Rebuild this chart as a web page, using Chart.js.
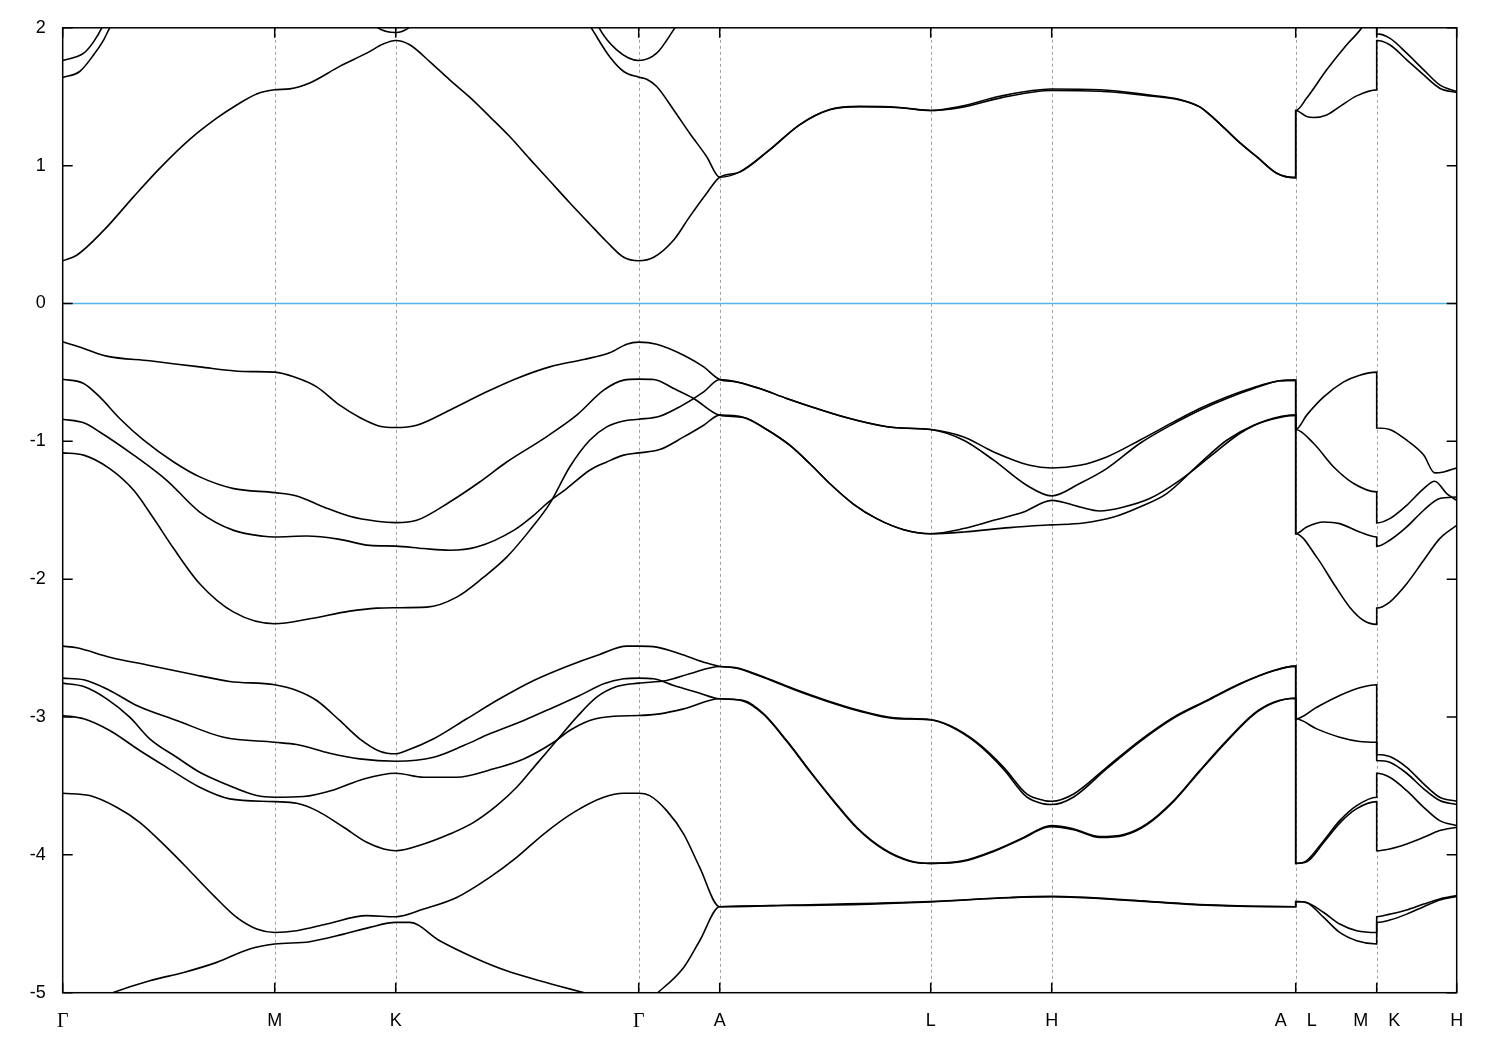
<!DOCTYPE html>
<html><head><meta charset="utf-8">
<script src="https://cdn.jsdelivr.net/npm/chart.js@4.4.1/dist/chart.umd.min.js"></script>
<style>html,body{margin:0;padding:0;background:#fff}#wrap{width:1500px;height:1050px}</style>
</head><body><div id="wrap"><canvas id="c" width="1500" height="1050"></canvas></div>
<script>
// k-path positions of the high-symmetry points and their labels
const kPoints=[0,212,333,576,657,868,989,1233,1314,1394];
const kLabels=['Γ','M','K','Γ','A','L','H','A    L','M    K','H'];
const yTicks=[-5,-4,-3,-2,-1,0,1,2];
const fermi=[[0,0],[1394,0]];

// conduction bands [k, E(eV)]
const cond1=[[0,0.31],[14,0.35],[41,0.53],[71,0.775],[97,0.98],[127,1.19],[154,1.344],[174,1.44],[194,1.52],[212,1.55],[227,1.557],[247,1.60],[277,1.72],[304,1.816],[321,1.884],[333,1.908],
[347,1.877],[367,1.755],[387,1.622],[407,1.497],[427,1.356],[447,1.211],[467,1.049],[487,0.89],[507,0.731],[527,0.577],[544,0.448],[561,0.335],[576,0.31],[591,0.335],[611,0.46],[627,0.63],[644,0.80],[657,0.916],
[677,0.953],[707,1.114],[737,1.296],[767,1.405],[797,1.427],[837,1.42],[868,1.40],[897,1.42],[937,1.49],[989,1.545],
[1037,1.54],[1087,1.506],[1117,1.477],[1137,1.426],[1147,1.37],[1162,1.27],[1177,1.167],[1194,1.065],[1214,0.945],[1233,0.913],
[1233,1.40],[1244,1.356],[1251,1.349],[1264,1.368],[1277,1.428],[1294,1.506],[1314,1.55],
[1314,1.908],[1327,1.877],[1344,1.768],[1361,1.658],[1377,1.562],[1394,1.530]];
const cond2=[[0,1.639],[17,1.683],[31,1.804],[41,1.913],[47,2.0],[70,2.3],[150,2.5],[250,2.45],[290,2.2],[314,2.005],[333,1.966],
[347,2.005],[370,2.2],[450,2.4],[510,2.2],[528,2.005],[547,1.79],[561,1.683],[576,1.642],[584,1.627],[594,1.574],[611,1.404],[627,1.235],[644,1.065],[657,0.916],
[677,0.955],[707,1.116],[737,1.298],[767,1.407],[797,1.43],[837,1.422],[868,1.40],[897,1.428],[937,1.503],[989,1.556],[1037,1.551],[1087,1.512],[1117,1.48],[1137,1.426],[1147,1.37],[1162,1.27],[1177,1.167],[1194,1.065],[1214,0.945],[1233,0.913],
[1233,1.40],[1244,1.49],[1264,1.695],[1284,1.877],[1299,2.0],[1314,2.2],
[1314,1.956],[1327,1.925],[1344,1.816],[1361,1.695],[1377,1.586],[1394,1.537]];
const cond3=[[0,1.763],[21,1.816],[31,1.90],[39,2.0],[60,2.4],[200,2.8],[333,2.6],[480,2.6],[520,2.3],[536,2.005],[554,1.84],[576,1.763],[594,1.816],[612,1.998],[630,2.2],[657,2.4]];

// upper valence bands
const val1=[[0,-0.278],[21,-0.326],[44,-0.382],[87,-0.416],[137,-0.46],[181,-0.493],[212,-0.498],[231,-0.532],[254,-0.605],[277,-0.738],[297,-0.827],[317,-0.89],[333,-0.90],
[354,-0.883],[387,-0.774],[424,-0.641],[454,-0.544],[487,-0.46],[521,-0.406],[547,-0.358],[564,-0.295],[576,-0.28],[594,-0.295],[621,-0.375],[641,-0.46],[657,-0.551],
[674,-0.569],[697,-0.617],[724,-0.689],[757,-0.769],[791,-0.842],[831,-0.90],[868,-0.914],
[901,-0.968],[931,-1.077],[967,-1.174],[989,-1.193],
[1017,-1.174],[1044,-1.113],[1077,-0.992],[1111,-0.859],[1137,-0.762],[1164,-0.678],[1191,-0.609],[1217,-0.561],[1233,-0.556],
[1233,-0.914],[1244,-0.81],[1261,-0.678],[1281,-0.569],[1297,-0.52],[1314,-0.498],
[1314,-0.903],[1327,-0.914],[1344,-0.992],[1361,-1.10],[1372,-1.229],[1381,-1.222],[1394,-1.193]];
const val2=[[0,-0.549],[21,-0.58],[37,-0.678],[57,-0.834],[81,-0.992],[111,-1.15],[137,-1.258],[171,-1.343],[212,-1.372],[234,-1.396],[261,-1.476],[287,-1.544],[314,-1.58],[333,-1.59],
[354,-1.573],[387,-1.44],[417,-1.295],[444,-1.15],[481,-0.98],[514,-0.81],[541,-0.629],[561,-0.556],[576,-0.549],[591,-0.551],[611,-0.617],[631,-0.689],[657,-0.81],
[681,-0.827],[704,-0.914],[727,-1.028],[747,-1.161],[767,-1.306],[791,-1.457],[814,-1.561],[841,-1.641],[868,-1.67],
[901,-1.633],[931,-1.573],[961,-1.513],[989,-1.428],
[1017,-1.476],[1037,-1.505],[1061,-1.476],[1087,-1.415],[1117,-1.283],[1151,-1.089],[1177,-0.943],[1204,-0.847],[1233,-0.81],
[1233,-1.67],[1244,-1.621],[1261,-1.585],[1277,-1.597],[1297,-1.658],[1314,-1.694],
[1314,-1.762],[1327,-1.718],[1344,-1.621],[1361,-1.50],[1377,-1.415],[1394,-1.404]];
const val3=[[0,-0.84],[21,-0.866],[37,-0.932],[71,-1.10],[104,-1.283],[137,-1.513],[171,-1.646],[201,-1.689],[212,-1.694],[244,-1.687],[277,-1.711],[307,-1.755],[333,-1.76],
[361,-1.778],[387,-1.79],[414,-1.767],[451,-1.646],[471,-1.537],[484,-1.452],[504,-1.343],[527,-1.21],[544,-1.15],[561,-1.10],[576,-1.084],
[597,-1.06],[621,-0.968],[641,-0.883],[657,-0.81],
[681,-0.827],[704,-0.914],[727,-1.028],[747,-1.161],[767,-1.306],[791,-1.457],[814,-1.561],[841,-1.641],[868,-1.67],
[901,-1.658],[947,-1.626],[981,-1.609],[989,-1.606],
[1021,-1.592],[1051,-1.549],[1077,-1.476],[1104,-1.379],[1137,-1.161],[1164,-0.992],[1191,-0.883],[1217,-0.827],[1233,-0.81],
[1233,-1.67],[1254,-1.84],[1271,-2.033],[1287,-2.203],[1301,-2.30],[1314,-2.328],
[1314,-2.21],[1327,-2.166],[1344,-2.033],[1361,-1.863],[1377,-1.706],[1394,-1.609]];
const val4=[[0,-1.084],[21,-1.10],[47,-1.198],[71,-1.355],[91,-1.56],[111,-1.778],[137,-2.033],[171,-2.239],[212,-2.323],[247,-2.287],[287,-2.232],[314,-2.21],[333,-2.207],
[364,-2.203],[394,-2.13],[421,-1.985],[444,-1.84],[467,-1.646],[487,-1.452],[507,-1.186],[527,-0.992],[544,-0.895],[561,-0.852],[576,-0.84],
[597,-0.818],[617,-0.75],[641,-0.641],[657,-0.551],
[674,-0.569],[697,-0.617],[724,-0.689],[757,-0.769],[791,-0.842],[831,-0.90],[868,-0.914],
[901,-0.992],[931,-1.137],[964,-1.319],[989,-1.396],
[1017,-1.306],[1044,-1.198],[1077,-1.016],[1111,-0.871],[1137,-0.774],[1164,-0.689],[1191,-0.617],[1217,-0.561],[1233,-0.556],
[1233,-0.914],[1251,-1.016],[1271,-1.186],[1291,-1.306],[1314,-1.367],
[1314,-1.592],[1327,-1.561],[1344,-1.464],[1361,-1.343],[1372,-1.29],[1384,-1.379],[1394,-1.428]];

// lower valence bands
const low1=[[0,-2.486],[14,-2.498],[47,-2.566],[87,-2.626],[127,-2.686],[167,-2.742],[212,-2.766],[234,-2.807],[254,-2.88],[277,-3.025],[297,-3.158],[317,-3.248],[333,-3.267],
[344,-3.243],[371,-3.158],[404,-3.013],[437,-2.868],[471,-2.735],[504,-2.633],[537,-2.546],[564,-2.486],[576,-2.486],[594,-2.493],[617,-2.541],[641,-2.602],[657,-2.633],
[674,-2.643],[697,-2.699],[731,-2.795],[764,-2.88],[797,-2.953],[831,-3.006],[868,-3.02],
[887,-3.062],[914,-3.183],[941,-3.365],[964,-3.558],[981,-3.605],[989,-3.611],
[1011,-3.558],[1044,-3.365],[1077,-3.171],[1111,-3.001],[1144,-2.88],[1177,-2.759],[1211,-2.662],[1233,-2.631],
[1233,-3.013],[1254,-2.929],[1277,-2.844],[1297,-2.788],[1314,-2.766],
[1314,-3.272],[1327,-3.287],[1344,-3.365],[1361,-3.485],[1377,-3.582],[1394,-3.611]];
const low2=[[0,-2.718],[21,-2.73],[47,-2.807],[74,-2.916],[114,-3.025],[161,-3.147],[212,-3.183],[234,-3.20],[267,-3.263],[297,-3.304],[333,-3.321],
[371,-3.292],[401,-3.207],[427,-3.122],[461,-3.025],[491,-2.929],[517,-2.844],[541,-2.759],[561,-2.723],[576,-2.718],[591,-2.723],[611,-2.771],[634,-2.82],[657,-2.868],
[681,-2.88],[701,-2.977],[724,-3.171],[747,-3.389],[771,-3.607],[794,-3.80],[821,-3.957],[847,-4.042],[868,-4.062],
[901,-4.042],[931,-3.97],[961,-3.873],[981,-3.80],[989,-3.788],
[1011,-3.812],[1037,-3.868],[1061,-3.853],[1084,-3.776],[1111,-3.606],[1137,-3.389],[1164,-3.171],[1191,-2.977],[1211,-2.893],[1233,-2.864],
[1233,-4.062],[1244,-4.042],[1261,-3.897],[1277,-3.752],[1294,-3.643],[1314,-3.582],
[1314,-3.408],[1327,-3.437],[1344,-3.534],[1361,-3.655],[1377,-3.752],[1394,-3.788]];
const low3=[[0,-2.754],[21,-2.779],[44,-2.868],[67,-3.001],[87,-3.158],[114,-3.292],[137,-3.401],[164,-3.49],[194,-3.57],[212,-3.582],[241,-3.577],[271,-3.529],[301,-3.449],[333,-3.408],
[361,-3.437],[394,-3.437],[427,-3.384],[461,-3.304],[491,-3.183],[507,-3.098],[527,-3.025],[551,-2.994],[576,-2.989],[597,-2.977],[621,-2.941],[657,-2.868],
[681,-2.885],[701,-2.982],[724,-3.176],[747,-3.394],[771,-3.612],[794,-3.805],[821,-3.962],[847,-4.046],[868,-4.062],
[901,-4.046],[931,-3.975],[961,-3.878],[981,-3.806],[989,-3.795],
[1011,-3.818],[1037,-3.874],[1061,-3.859],[1084,-3.782],[1111,-3.612],[1137,-3.395],[1164,-3.177],[1191,-2.982],[1211,-2.897],[1233,-2.864],
[1233,-4.062],[1244,-4.05],[1261,-3.91],[1277,-3.77],[1294,-3.665],[1314,-3.614],
[1314,-3.97],[1327,-3.957],[1344,-3.921],[1361,-3.873],[1377,-3.824],[1394,-3.80]];
const low4=[[0,-2.989],[21,-3.013],[47,-3.098],[77,-3.243],[104,-3.365],[137,-3.51],[167,-3.594],[212,-3.614],[234,-3.626],[254,-3.679],[281,-3.80],[304,-3.909],[321,-3.957],[333,-3.97],
[361,-3.921],[387,-3.849],[411,-3.764],[434,-3.643],[454,-3.51],[474,-3.34],[494,-3.171],[514,-3.001],[534,-2.856],[554,-2.779],[576,-2.754],[604,-2.735],[627,-2.686],[657,-2.633],
[674,-2.646],[697,-2.703],[731,-2.80],[764,-2.885],[797,-2.958],[831,-3.01],[868,-3.02],
[887,-3.066],[914,-3.19],[941,-3.38],[964,-3.58],[981,-3.63],[989,-3.635],
[1011,-3.58],[1044,-3.375],[1077,-3.18],[1111,-3.008],[1144,-2.885],[1177,-2.762],[1211,-2.665],[1233,-2.631],
[1233,-3.013],[1254,-3.086],[1277,-3.147],[1297,-3.178],[1314,-3.183],
[1314,-3.316],[1327,-3.328],[1344,-3.408],[1361,-3.521],[1377,-3.606],[1394,-3.635]];
const low5=[[0,-3.553],[27,-3.57],[54,-3.655],[77,-3.764],[104,-3.946],[127,-4.115],[151,-4.296],[174,-4.454],[194,-4.538],[212,-4.563],[234,-4.55],[264,-4.502],[304,-4.441],[333,-4.449],
[361,-4.393],[394,-4.309],[427,-4.163],[454,-4.018],[481,-3.849],[511,-3.692],[541,-3.582],[561,-3.553],[576,-3.553],[587,-3.57],[604,-3.679],[621,-3.849],[637,-4.091],[657,-4.376],
[731,-4.364],[868,-4.338],[947,-4.309],[989,-4.301],
[1077,-4.333],[1144,-4.362],[1233,-4.376],
[1233,-4.338],[1244,-4.345],[1261,-4.418],[1277,-4.502],[1294,-4.55],[1314,-4.563],
[1314,-4.449],[1327,-4.43],[1344,-4.40],[1361,-4.357],[1377,-4.32],[1394,-4.295]];
const low6=[[0,-5.11],[27,-5.07],[50,-5.0],[87,-4.913],[121,-4.853],[154,-4.78],[187,-4.683],[212,-4.647],[247,-4.63],[281,-4.575],[307,-4.526],[333,-4.49],
[347,-4.49],[377,-4.623],[411,-4.744],[444,-4.841],[477,-4.913],[524,-5.006],[576,-5.11],
[594,-5.006],[621,-4.817],[637,-4.623],[657,-4.376],
[731,-4.367],[868,-4.341],[947,-4.311],[989,-4.304],
[1077,-4.336],[1144,-4.365],[1233,-4.376],
[1233,-4.338],[1244,-4.347],[1261,-4.454],[1277,-4.563],[1294,-4.623],[1314,-4.647],
[1314,-4.49],[1327,-4.473],[1344,-4.43],[1361,-4.376],[1377,-4.327],[1394,-4.301]];

const bands=[cond1,cond2,cond3,val1,val2,val3,val4,low1,low2,low3,low4,low5,low6];
const toXY=a=>a.map(([x,y])=>({x,y}));
const datasets=bands.map(b=>({data:toXY(b),borderColor:'#000',borderWidth:1.6,pointRadius:0,fill:false,cubicInterpolationMode:'monotone'}));
datasets.unshift({data:toXY(fermi),borderColor:'#56b4e9',borderWidth:1.6,pointRadius:0,fill:false,tension:0});

const framePlugin={id:'framePlugin',
  beforeDatasetsDraw(chart){
    const {ctx,chartArea:a,scales:{x}}=chart;
    ctx.save();ctx.strokeStyle='#a0a0a0';ctx.lineWidth=1;ctx.setLineDash([3,3]);
    kPoints.slice(1,-1).forEach(k=>{const px=Math.round(x.getPixelForValue(k))+0.5;ctx.beginPath();ctx.moveTo(px,a.top);ctx.lineTo(px,a.bottom);ctx.stroke();});
    ctx.restore();
  },
  afterDatasetsDraw(chart){
    const {ctx,chartArea:a,scales:{x,y}}=chart;
    ctx.save();ctx.strokeStyle='#000';ctx.lineWidth=1.5;ctx.setLineDash([]);
    ctx.strokeRect(a.left,a.top,a.right-a.left,a.bottom-a.top);
    ctx.beginPath();
    yTicks.forEach(v=>{const py=y.getPixelForValue(v);ctx.moveTo(a.left,py);ctx.lineTo(a.left+10,py);ctx.moveTo(a.right,py);ctx.lineTo(a.right-10,py);});
    kPoints.forEach(k=>{const px=x.getPixelForValue(k);ctx.moveTo(px,a.bottom);ctx.lineTo(px,a.bottom-10);ctx.moveTo(px,a.top);ctx.lineTo(px,a.top+10);});
    ctx.stroke();ctx.restore();
  }
};

new Chart(document.getElementById('c'),{
  type:'line',
  data:{datasets},
  options:{
    responsive:false,animation:false,
    layout:{padding:{top:27.5,right:43.3,bottom:0,left:0}},
    plugins:{legend:{display:false},tooltip:{enabled:false}},
    scales:{
      x:{type:'linear',min:0,max:1394,
        grid:{display:false,drawTicks:false},border:{display:false},
        afterBuildTicks:s=>{s.ticks=kPoints.map(v=>({value:v}));},
        afterFit:s=>{s.height=57.3;},
        ticks:{autoSkip:false,maxRotation:0,padding:17.5,color:'#000',
          callback:(v,i)=>kLabels[i],
          font:c=>({family:kLabels[c.index]==='Γ'?'"Liberation Serif", serif':'"Liberation Sans", Arial, sans-serif',size:kLabels[c.index]==='Γ'?20:18})}
      },
      y:{type:'linear',min:-5,max:2,
        grid:{display:false,drawTicks:false},border:{display:false},
        afterFit:s=>{s.width=62.7;},
        ticks:{stepSize:1,padding:17,color:'#000',callback:v=>String(v),
          font:{family:'"Liberation Sans", Arial, sans-serif',size:18}}
      }
    }
  },
  plugins:[framePlugin]
});
</script></body></html>
